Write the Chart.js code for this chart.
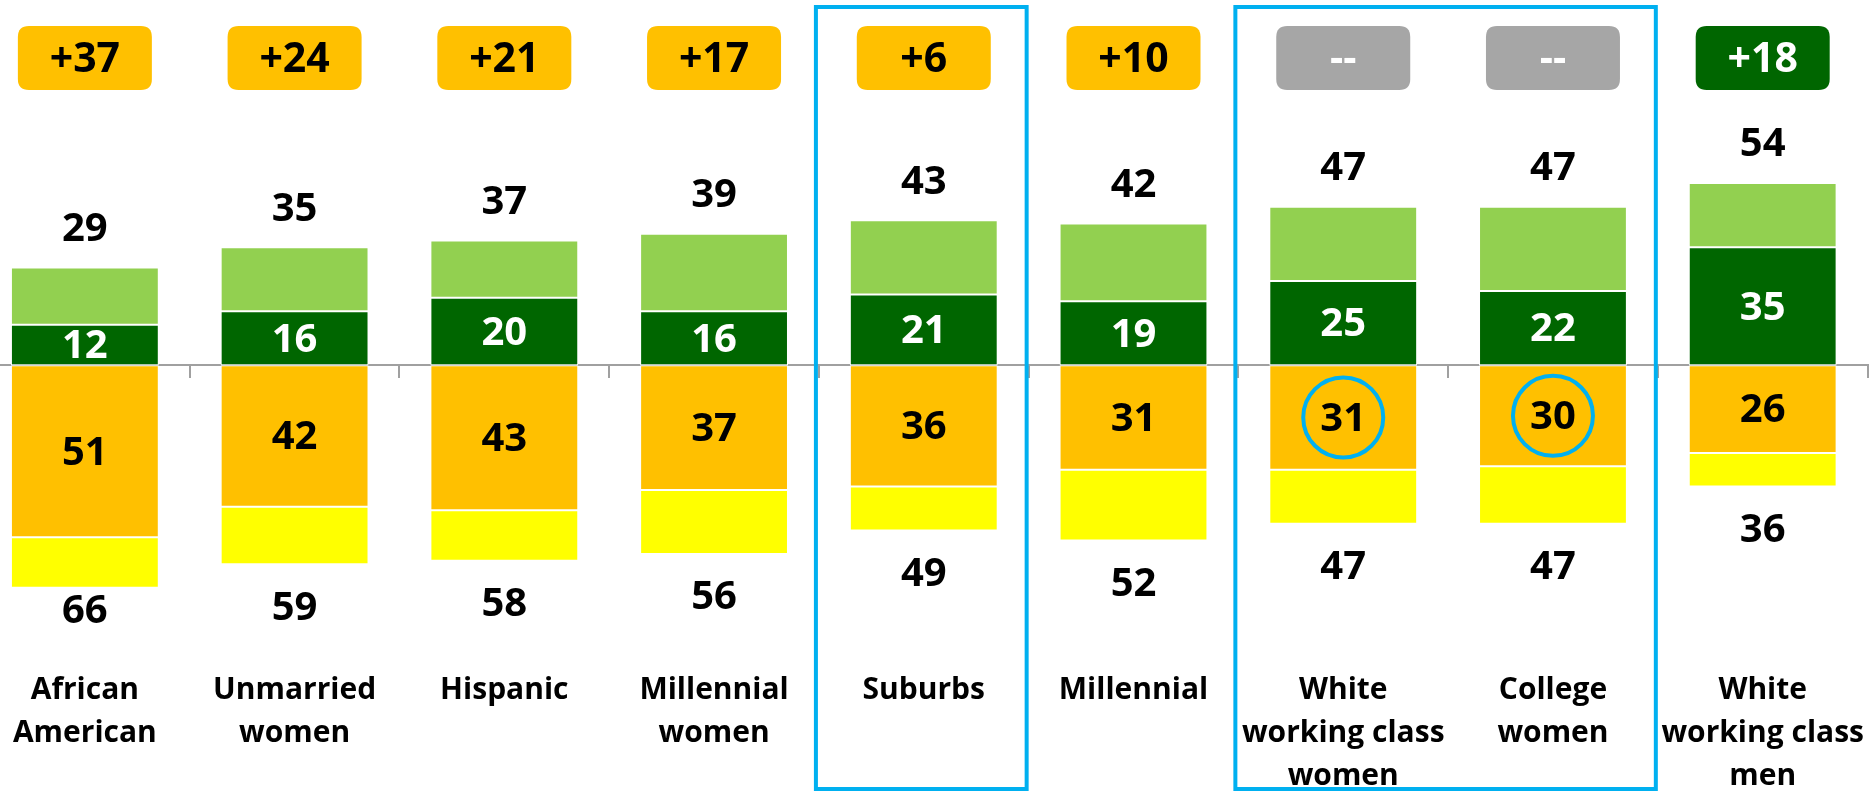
<!DOCTYPE html>
<html lang="en">
<head>
<meta charset="utf-8">
<title>Strong vs. weak support by group</title>
<script src="https://cdn.jsdelivr.net/npm/chart.js@4.4.1/dist/chart.umd.min.js"></script>
<style>
  html, body {
    margin: 0;
    padding: 0;
    background: #ffffff;
    overflow: hidden;
  }
  #contenedor {
    position: absolute;
    left: -20px;
    top: 0;
    width: 1890px;
    height: 804px;
  }
</style>
</head>
<body>
<div id="contenedor">
  <canvas id="grafica-grupos"></canvas>
</div>

<script>
/* ===== DATA ===== */

const GROUP_LABELS = [
  ["African", "American"],
  ["Unmarried", "women"],
  ["Hispanic"],
  ["Millennial", "women"],
  ["Suburbs"],
  ["Millennial"],
  ["White", "working class", "women"],
  ["College", "women"],
  ["White", "working class", "men"],
];

// upper side: total and "strong" share
const TOP_TOTAL     = [29, 35, 37, 39, 43, 42, 47, 47, 54];
const TOP_STRONG    = [12, 16, 20, 16, 21, 19, 25, 22, 35];

// lower side: total and "strong" share
const BOTTOM_TOTAL  = [66, 59, 58, 56, 49, 52, 47, 47, 36];
const BOTTOM_STRONG = [51, 42, 43, 37, 36, 31, 31, 30, 26];

// groups framed in blue, and bars whose lower label is circled
const HIGHLIGHT_GROUPS = [[4, 4], [6, 7]];
const CIRCLED_BARS     = [6, 7];

/* ===== SCALE AND COLOURS ===== */

const Y_MIN = -88.4;
const Y_MAX = 108.3;

const COLOR_TOP_STRONG    = "#006600";
const COLOR_TOP_SOFT      = "#92D050";
const COLOR_BOTTOM_STRONG = "#FFC000";
const COLOR_BOTTOM_SOFT   = "#FFFF00";
const COLOR_HIGHLIGHT     = "#00B0F0";
const COLOR_TIE           = "#A6A6A6";

const FONT_FAMILY = "'Open Sans', 'Noto Sans', sans-serif";

Chart.defaults.font.family = FONT_FAMILY;
Chart.defaults.color       = "#000000";

/* ===== HELPERS ===== */

function marginLabel(i) {
  const diff = BOTTOM_TOTAL[i] - TOP_TOTAL[i];
  if (diff === 0) return "--";
  return "+" + Math.abs(diff);
}

function marginColor(i) {
  const diff = BOTTOM_TOTAL[i] - TOP_TOTAL[i];
  if (diff === 0) return COLOR_TIE;
  return diff > 0 ? COLOR_BOTTOM_STRONG : COLOR_TOP_STRONG;
}

function roundedRect(ctx, x, y, w, h, r) {
  ctx.beginPath();
  ctx.moveTo(x + r, y);
  ctx.lineTo(x + w - r, y);
  ctx.quadraticCurveTo(x + w, y, x + w, y + r);
  ctx.lineTo(x + w, y + h - r);
  ctx.quadraticCurveTo(x + w, y + h, x + w - r, y + h);
  ctx.lineTo(x + r, y + h);
  ctx.quadraticCurveTo(x, y + h, x, y + h - r);
  ctx.lineTo(x, y + r);
  ctx.quadraticCurveTo(x, y, x + r, y);
  ctx.closePath();
}

/* ===== ANNOTATIONS PLUGIN ===== */

/**
 * Draws the value labels, the margin badges on top,
 * the blue frames and the circled values.
 */
const pluginAnotaciones = {
  id: "anotaciones",
  afterDraw(chart) {
    const ctx    = chart.ctx;
    const xScale = chart.scales.x;
    const strong = chart.getDatasetMeta(0).data;
    const soft   = chart.getDatasetMeta(1).data;
    const neg    = chart.getDatasetMeta(2).data;
    const negSft = chart.getDatasetMeta(3).data;
    const catW   = xScale.width / GROUP_LABELS.length;

    ctx.save();
    ctx.textAlign    = "center";
    ctx.textBaseline = "middle";

    GROUP_LABELS.forEach(function(_, i) {
      const x = strong[i].x;

      // value inside dark green segment
      ctx.font      = "bold 40px " + FONT_FAMILY;
      ctx.fillStyle = "#ffffff";
      ctx.fillText(String(TOP_STRONG[i]), x, (strong[i].y + strong[i].base) / 2 + 2);

      // value inside orange segment
      ctx.fillStyle = "#000000";
      const yNeg = (neg[i].y + neg[i].base) / 2 + 2;
      ctx.fillText(String(BOTTOM_STRONG[i]), x, yNeg);

      // totals above and below
      ctx.fillText(String(TOP_TOTAL[i]), x, soft[i].y - 38);
      ctx.fillText(String(BOTTOM_TOTAL[i]), x, Math.min(negSft[i].y + 44, 612));

      // circled values
      if (CIRCLED_BARS.indexOf(i) !== -1) {
        ctx.beginPath();
        ctx.arc(x, yNeg - 2, 40, 0, Math.PI * 2);
        ctx.lineWidth   = 4;
        ctx.strokeStyle = COLOR_HIGHLIGHT;
        ctx.stroke();
      }

      // margin badge
      roundedRect(ctx, x - 67, 26, 134, 64, 11);
      ctx.fillStyle = marginColor(i);
      ctx.fill();
      const txt = marginLabel(i);
      ctx.fillStyle = (txt === "--" || marginColor(i) === COLOR_TOP_STRONG) ? "#ffffff" : "#000000";
      ctx.font      = "bold 41px " + FONT_FAMILY;
      ctx.fillText(txt, x, 60);
    });

    // blue frames around highlighted groups
    ctx.lineWidth   = 4;
    ctx.strokeStyle = COLOR_HIGHLIGHT;
    HIGHLIGHT_GROUPS.forEach(function(g) {
      const left  = xScale.getPixelForValue(g[0]) - catW / 2 - 3;
      const right = xScale.getPixelForValue(g[1]) + catW / 2 - 2;
      ctx.strokeRect(left, 7, right - left, 782);
    });

    ctx.restore();
  },
};

/* ===== CHART ===== */

function inicializarGrafica() {
  const lienzo = document.getElementById("grafica-grupos");
  if (!lienzo) return;

  const topSoft    = TOP_TOTAL.map(function(t, i) { return t - TOP_STRONG[i]; });
  const bottomSoft = BOTTOM_TOTAL.map(function(t, i) { return -(t - BOTTOM_STRONG[i]); });
  const bottomStr  = BOTTOM_STRONG.map(function(v) { return -v; });

  const estiloBarra = {
    borderColor:   "#ffffff",
    borderWidth:   1,
    borderSkipped: false,
  };

  new Chart(lienzo, {
    type: "bar",
    data: {
      labels: GROUP_LABELS,
      datasets: [
        { label: "Top strong",    data: TOP_STRONG, backgroundColor: COLOR_TOP_STRONG,    ...estiloBarra },
        { label: "Top soft",      data: topSoft,    backgroundColor: COLOR_TOP_SOFT,      ...estiloBarra },
        { label: "Bottom strong", data: bottomStr,  backgroundColor: COLOR_BOTTOM_STRONG, ...estiloBarra },
        { label: "Bottom soft",   data: bottomSoft, backgroundColor: COLOR_BOTTOM_SOFT,   ...estiloBarra },
      ],
    },
    options: {
      responsive:          true,
      maintainAspectRatio: false,
      animation:           false,
      layout: { padding: 0 },
      datasets: {
        bar: { categoryPercentage: 1, barPercentage: 0.705 },
      },
      plugins: {
        legend:  { display: false },
        tooltip: { enabled: false },
      },
      scales: {
        x: {
          stacked: true,
          grid:    { display: false, drawTicks: false },
          border:  { display: false },
          ticks: {
            color:       "#000000",
            padding:     6,
            maxRotation: 0,
            autoSkip:    false,
            font: { size: 30, weight: "bold", lineHeight: 1.43 },
          },
        },
        eje0: {
          type:     "category",
          axis:     "x",
          position: { y: 0 },
          z:        1,
          grid: {
            drawOnChartArea: false,
            drawTicks:       true,
            tickLength:      12,
            offset:          true,
            color:           "#a0a0a0",
            lineWidth:       2,
          },
          border: { display: true, color: "#a0a0a0", width: 2 },
          ticks:  { display: false },
        },
        y: {
          stacked: true,
          display: false,
          min:     Y_MIN,
          max:     Y_MAX,
        },
      },
    },
    plugins: [pluginAnotaciones],
  });
}

document.addEventListener("DOMContentLoaded", inicializarGrafica);
</script>
</body>
</html>
